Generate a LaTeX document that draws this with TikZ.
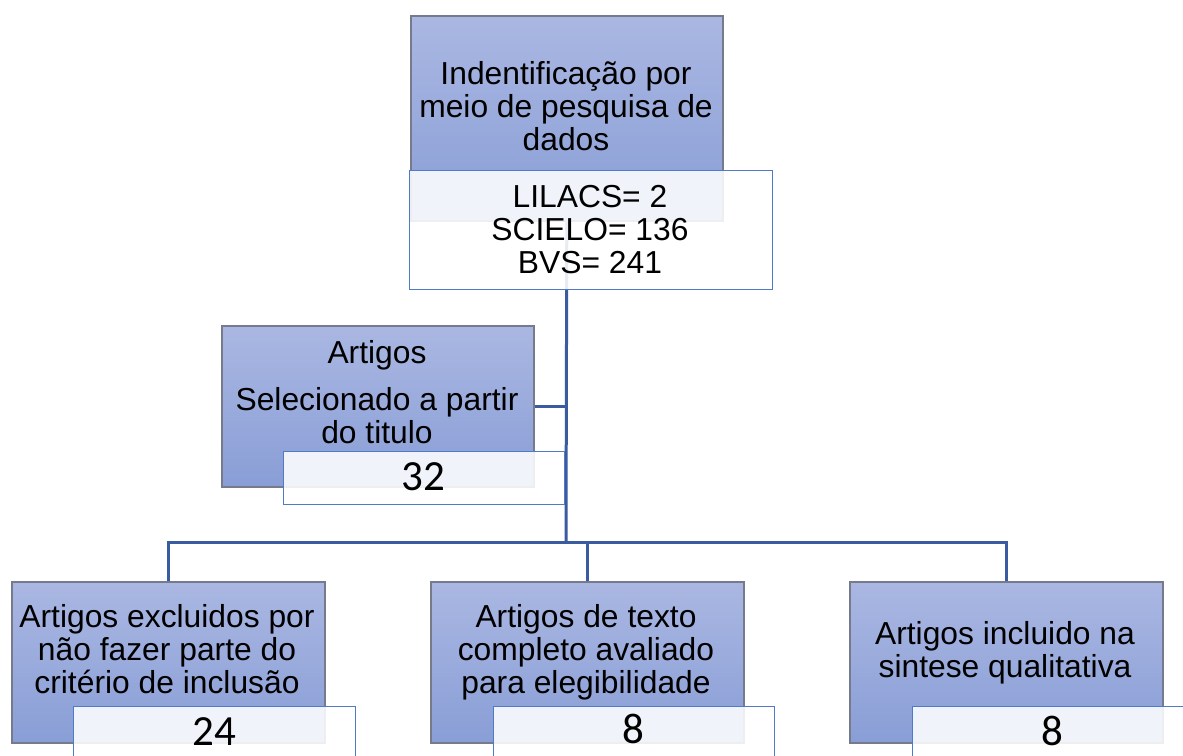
\documentclass[tikz,border=0pt]{standalone}
\usepackage{fontspec}
\setmainfont{Liberation Sans}
\newfontfamily\calib{Carlito}
\definecolor{gtop}{RGB}{170,183,226}
\definecolor{gbot}{RGB}{137,158,214}
\definecolor{gedge}{RGB}{118,122,138}
\definecolor{wedge}{RGB}{80,122,200}
\definecolor{linkc}{RGB}{59,91,160}
\tikzset{
  gbox/.style={draw=gedge, line width=1.6pt, top color=gtop, bottom color=gbot,
    rectangle, inner sep=0pt, anchor=north west},
  wbox/.style={draw=wedge, line width=1.3pt, fill=white, fill opacity=0.88,
    rectangle, inner sep=0pt, anchor=north west},
  txt/.style={font=\fontsize{31.8}{33}\selectfont, align=center, inner sep=0pt, anchor=base},
  num/.style={font=\calib\fontsize{43}{45}\selectfont, inner sep=0pt, anchor=base},
  conn/.style={draw=linkc, line width=3pt}
}
\begin{document}
\begin{tikzpicture}[x=1pt,y=-1pt]
\useasboundingbox (0,0) rectangle (1183,755);
\clip (0,0) rectangle (1183,755);
\fill[white] (0,0) rectangle (1183,755);

% box geometry (nodes)
\node[gbox, minimum width=312pt, minimum height=205pt] (top) at (410,15) {};
\node[gbox, minimum width=312pt, minimum height=161pt] (mid) at (221,325) {};
\node[gbox, minimum width=313pt, minimum height=161pt] (b1) at (11,581) {};
\node[gbox, minimum width=313pt, minimum height=161pt] (b2) at (430,581) {};
\node[gbox, minimum width=313pt, minimum height=161pt] (b3) at (849,581) {};

\coordinate (bus) at (566,542);

% connectors
\draw[conn] (top.south) -- (bus);
\draw[conn] (mid.east) -- (mid.east -| bus);
\draw[conn] (b1.north) -- (b1.north |- bus) -- (b3.north |- bus) -- (b3.north);
\draw[conn] (b2.north) -- (b2.north |- bus);

% redraw boxes over connectors
\node[gbox, minimum width=312pt, minimum height=205pt] (topr) at (410,15) {};
\node[gbox, minimum width=312pt, minimum height=161pt] (midr) at (221,325) {};
\node[gbox, minimum width=313pt, minimum height=161pt] (b1r) at (11,581) {};
\node[gbox, minimum width=313pt, minimum height=161pt] (b2r) at (430,581) {};
\node[gbox, minimum width=313pt, minimum height=161pt] (b3r) at (849,581) {};

% white count boxes
\node[wbox, minimum width=363pt, minimum height=119pt] (topw) at (409,170) {};
\node[wbox, minimum width=281pt, minimum height=53pt] (midw) at (283,451) {};
\node[wbox, minimum width=282pt, minimum height=53pt] (b1w) at (73,706) {};
\node[wbox, minimum width=281pt, minimum height=53pt] (b2w) at (493,706) {};
\node[wbox, minimum width=281pt, minimum height=53pt] (b3w) at (912,706) {};

% texts (anchor = baseline of last line)
\node[txt] (ttop) at (566,150) {Indentificação por\\meio de pesquisa de\\dados};
\node[txt] (ttopw) at (590,273) {LILACS= 2\\SCIELO= 136\\BVS= 241};
\node[txt] (tmid) at (377,443) {Artigos\\[14pt]Selecionado a partir\\do titulo};
\node[txt] (tb1) at (167,693) {Artigos excluidos por\\não fazer parte do\\critério de inclusão};
\node[txt] (tb2) at (586,693) {Artigos de texto\\completo avaliado\\para elegibilidade};
\node[txt] (tb3) at (1005,677) {Artigos incluido na\\sintese qualitativa};

\node[num] (nmid) at (423.5,490) {32};
\node[num] (nb1) at (214,745) {24};
\node[num] (nb2) at (633,743) {8};
\node[num] (nb3) at (1052.5,745) {8};
\end{tikzpicture}
\end{document}
